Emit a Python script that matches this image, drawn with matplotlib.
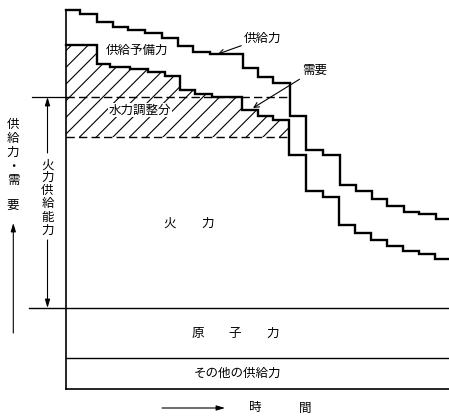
import numpy as np
import matplotlib
matplotlib.use('Agg')
import matplotlib.pyplot as plt

plt.rcParams['font.family'] = ['Noto Sans CJK JP', 'DejaVu Sans']
plt.rcParams['hatch.linewidth'] = 0.8

# time axis edges of the steps and the values of each step
supply_t = [0, 14, 31, 47, 62, 79, 96, 112, 127, 144, 177, 192, 207, 224,
            240, 257, 274, 290, 306, 321, 338, 353, 370, 383]
supply = [379, 375, 367, 362, 359, 356, 351, 343, 337, 335, 321, 312, 306,
          273, 239, 234, 204, 198, 190, 183, 177, 175, 170]

demand_t = [0, 31, 44, 64, 82, 99, 114, 129, 146, 176, 192, 207, 223,
            240, 257, 273, 289, 305, 321, 337, 353, 369, 383]
demand = [344, 325, 322, 320, 317, 313, 299, 295, 292, 279, 273, 269, 234,
          198, 192, 164, 156, 149, 143, 138, 135, 130]

hydro_top = 292      # 水力調整分 upper level
hydro_bottom = 252   # 水力調整分 lower level
hydro_end = 224
thermal_base = 81    # 火力供給能力 base
nuclear_base = 31
t_end = 383


def steps(t, v):
    xs = np.repeat(t, 2)[1:-1]
    ys = np.repeat(v, 2)
    return xs, ys


fig = plt.figure(figsize=(4.49, 4.17), dpi=100)
ax = fig.add_axes([0, 0, 1, 1])
ax.set_xlim(-66, 383)
ax.set_ylim(-28, 389)
ax.axis('off')

# hatched hydro band between lower dashed line and demand
dt = np.array(demand_t)
dv = np.array(demand, dtype=float)
mask_t = dt[dt <= hydro_end]
hx, hy = steps(mask_t, dv[:len(mask_t) - 1])
px = np.concatenate([[0], hx, [hydro_end, hydro_end]])
py = np.concatenate([[hydro_bottom], hy, [hy[-1], hydro_bottom]])
ax.fill(px, py, facecolor='none', edgecolor='black', hatch='//', lw=0)

# curves
sx, sy = steps(supply_t, supply)
ax.plot(sx, sy, color='black', lw=1.7, solid_joinstyle='miter')
dx, dy = steps(demand_t, demand)
ax.plot(dx, dy, color='black', lw=1.7, solid_joinstyle='miter')

# dashed hydro lines
ax.plot([0, hydro_end], [hydro_top, hydro_top], color='black', lw=1.0,
        dashes=(6, 3))
ax.plot([0, hydro_end], [hydro_bottom, hydro_bottom], color='black', lw=1.0,
        dashes=(6, 3))
ax.plot([-34, 0], [hydro_top, hydro_top], color='black', lw=0.9)

# frame lines
ax.plot([0, 0], [0, supply[0]], color='black', lw=1.2)
ax.plot([-37, t_end], [thermal_base, thermal_base], color='black', lw=1.0)
ax.plot([0, t_end], [nuclear_base, nuclear_base], color='black', lw=1.0)
ax.plot([0, t_end], [0, 0], color='black', lw=1.2)

fs = 9
arrow_kw = dict(arrowstyle='-|>,head_length=0.5,head_width=0.15',
                color='black', lw=0.8, shrinkA=0, shrinkB=0)

# 火力供給能力 double arrow
ax.annotate('', xy=(-18.5, hydro_top), xytext=(-18.5, 236), arrowprops=arrow_kw)
ax.annotate('', xy=(-18.5, thermal_base), xytext=(-18.5, 149), arrowprops=arrow_kw)
for ch, y in zip('火力供給能力', [224, 212, 199, 186, 172, 159]):
    ax.text(-18.5, y, ch, fontsize=fs, ha='center', va='center')

# left axis label
for ch, y in zip('供給力・需要', [265, 251, 237, 223, 209, 184]):
    ax.text(-53, y, ch, fontsize=fs, ha='center', va='center')
ax.annotate('', xy=(-52.7, 166), xytext=(-52.7, 56), arrowprops=arrow_kw)

# time arrow
ax.annotate('', xy=(159, -19), xytext=(96, -19), arrowprops=arrow_kw)
ax.text(189, -19, '時', fontsize=fs, ha='center', va='center')
ax.text(239, -19, '間', fontsize=fs, ha='center', va='center')

# region labels
ax.text(71, 339, '供給予備力', fontsize=fs, ha='center', va='center')
ax.text(74, 279, '水力調整分', fontsize=fs, ha='center', va='center',
        bbox=dict(facecolor='white', edgecolor='none', pad=0.5))
ax.text(104, 166, '火', fontsize=fs, ha='center', va='center')
ax.text(142, 166, '力', fontsize=fs, ha='center', va='center')
for ch, x in zip('原子力', [132, 169, 207]):
    ax.text(x, 56, ch, fontsize=fs, ha='center', va='center')
ax.text(171, 16, 'その他の供給力', fontsize=fs, ha='center', va='center')

# callouts
ax.annotate('供給力', xy=(152, 335), xytext=(178, 351), fontsize=fs,
            ha='left', va='center',
            arrowprops=dict(arrowstyle='->', color='black', lw=0.8,
                            shrinkA=0, shrinkB=0))
ax.annotate('需要', xy=(187, 281), xytext=(236, 319), fontsize=fs,
            ha='left', va='center',
            arrowprops=dict(arrowstyle='->', color='black', lw=0.8,
                            shrinkA=0, shrinkB=0))

fig.savefig('out.png', dpi=100)
